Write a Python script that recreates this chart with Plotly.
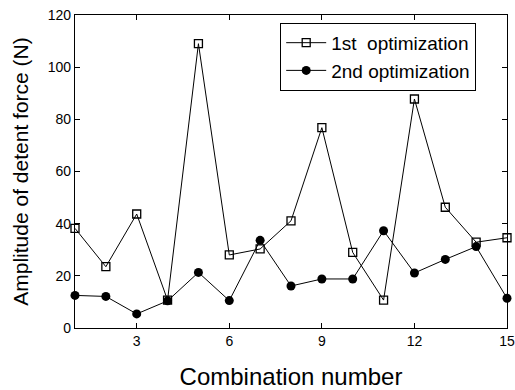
import plotly.graph_objects as go

combination = list(range(1, 16))
first_opt = [38.2, 23.5, 43.7, 10.7, 109.0, 28.0, 30.3, 41.1, 76.8, 29.0, 10.7, 87.8, 46.3, 32.9, 34.6]
second_opt = [12.5, 12.1, 5.4, 10.4, 21.3, 10.5, 33.6, 16.1, 18.8, 18.8, 37.3, 21.1, 26.3, 31.2, 11.4]
x_ticks = [3, 6, 9, 12, 15]
y_ticks = [0, 20, 40, 60, 80, 100, 120]

fig = go.Figure()
fig.add_trace(go.Scatter(
    x=combination, y=first_opt, mode="lines+markers", name="1st  optimization",
    line=dict(color="black", width=1),
    marker=dict(symbol="square-open", size=8, color="black", line=dict(width=1.3, color="black")),
    cliponaxis=False,
))
fig.add_trace(go.Scatter(
    x=combination, y=second_opt, mode="lines+markers", name="2nd optimization",
    line=dict(color="black", width=1),
    marker=dict(symbol="circle", size=9, color="black"),
    cliponaxis=False,
))

font = "Liberation Sans, Arial, sans-serif"
fig.update_layout(
    width=515, height=390,
    margin=dict(l=75, r=8, t=15, b=62, autoexpand=False),
    paper_bgcolor="white", plot_bgcolor="white",
    font=dict(family=font, color="black"),
    showlegend=True,
    legend=dict(
        x=0.475, y=0.975, xanchor="left", yanchor="top",
        bordercolor="black", borderwidth=1, bgcolor="white",
        font=dict(size=19, family=font, color="black"),
        tracegroupgap=0, itemwidth=40,
    ),
    xaxis=dict(
        range=[1, 15], tickvals=x_ticks, ticktext=[str(v) for v in x_ticks],
        ticks="inside", ticklen=5, tickwidth=1, tickcolor="black",
        showline=True, linecolor="black", linewidth=1.3, mirror="ticks",
        showgrid=False, zeroline=False, automargin=False,
        tickfont=dict(size=14, family=font, color="black"),
        title=dict(text="Combination number", font=dict(size=24, family=font, color="black"), standoff=20),
    ),
    yaxis=dict(
        range=[0, 120], tickvals=y_ticks,
        ticks="inside", ticklen=5, tickwidth=1, tickcolor="black",
        showline=True, linecolor="black", linewidth=1.3, mirror="ticks",
        showgrid=False, zeroline=False, automargin=False,
        tickfont=dict(size=14, family=font, color="black"),
        title=dict(text="Amplitude of detent force (N)", font=dict(size=21, family=font, color="black"), standoff=13),
    ),
)

fig.write_html("out.html")
